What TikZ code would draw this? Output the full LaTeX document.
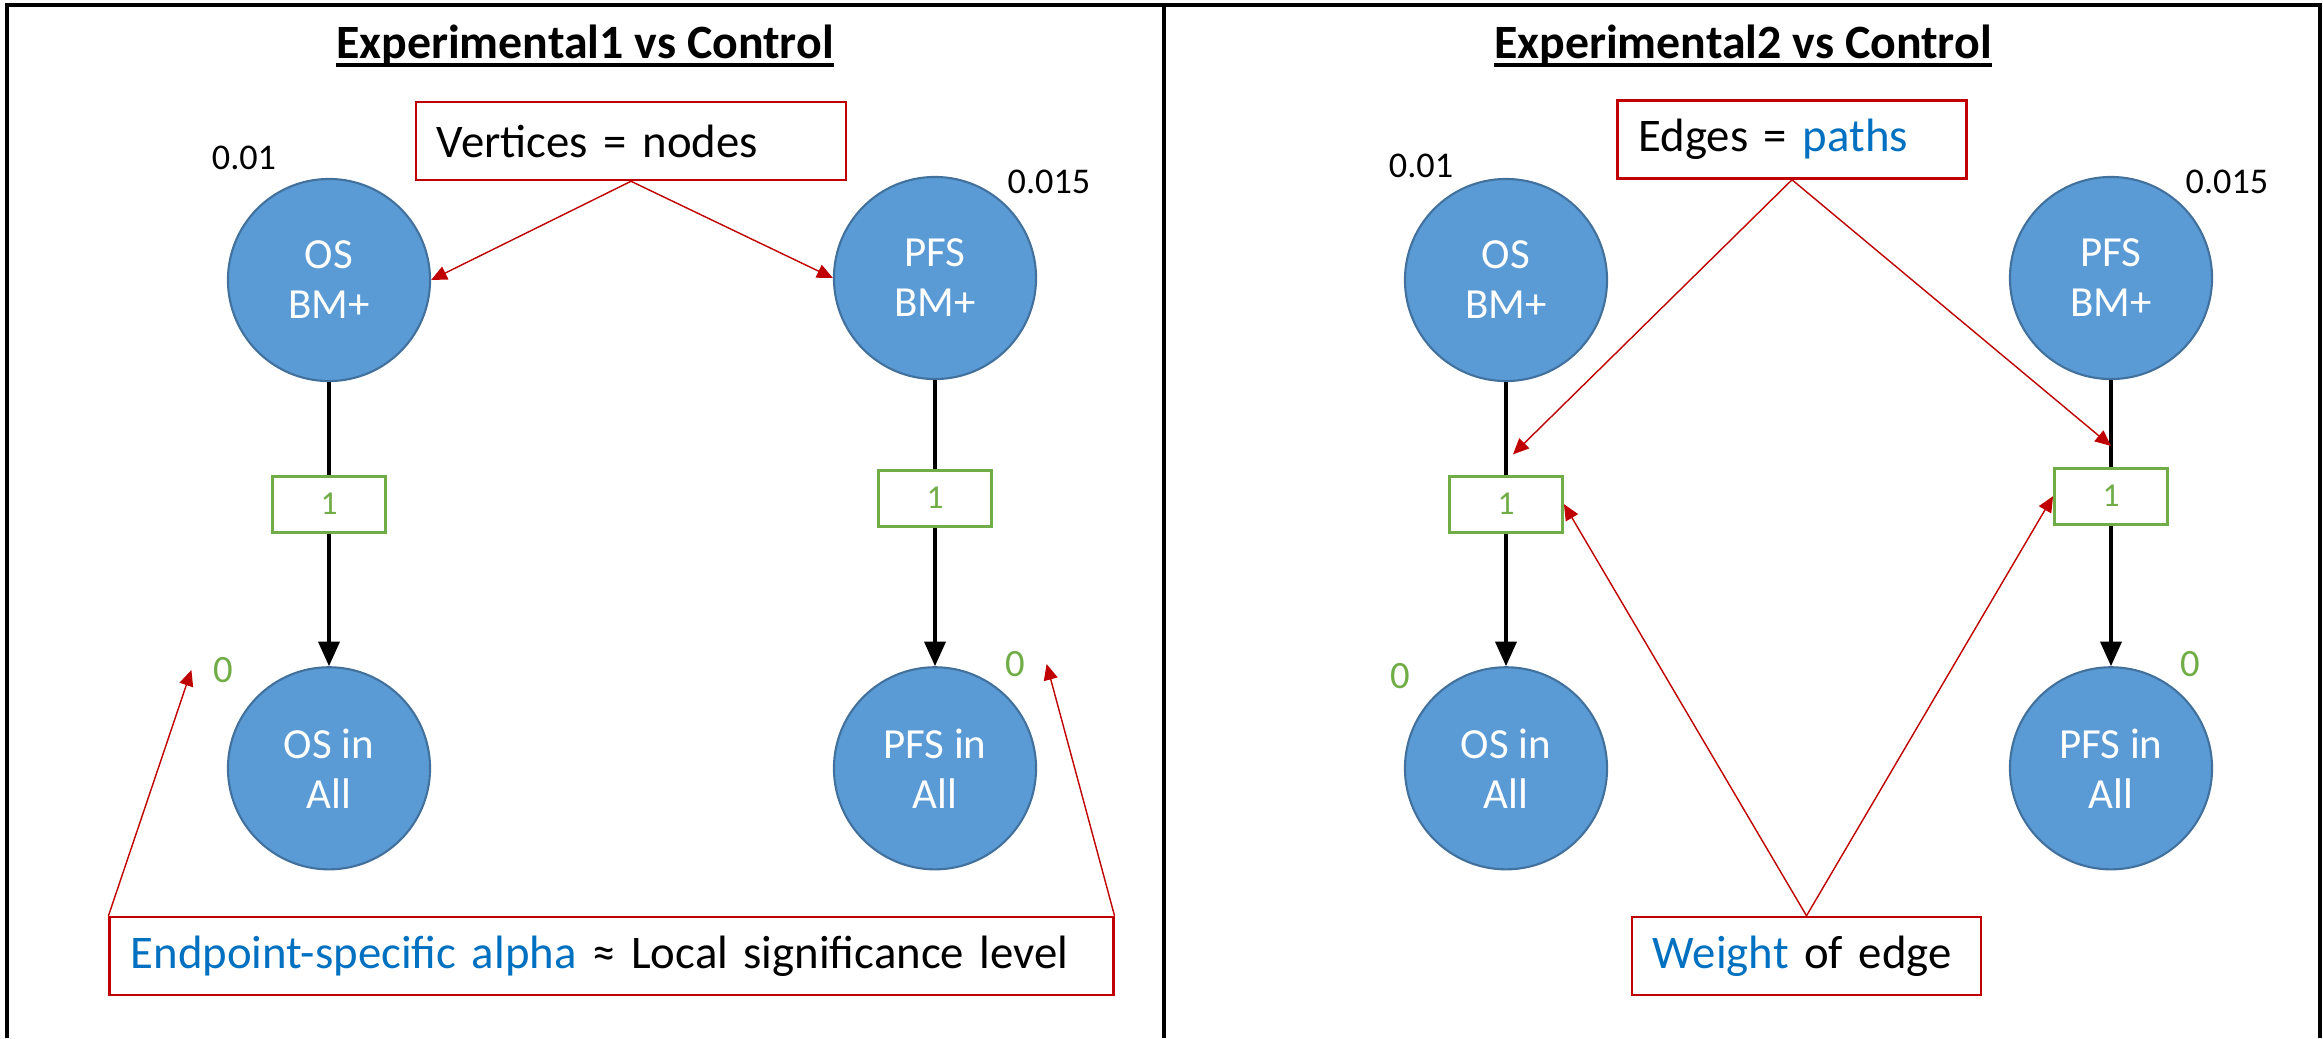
\documentclass[tikz,border=0pt]{standalone}
\usepackage{fontspec}
\setmainfont{Carlito}
\usetikzlibrary{arrows.meta}
\definecolor{nodeblue}{HTML}{5B9BD5}
\definecolor{nodeline}{HTML}{41719C}
\definecolor{wgreen}{HTML}{70AD47}
\definecolor{notered}{HTML}{C00000}
\definecolor{textblue}{HTML}{0070C0}
\newcommand{\headline}[1]{\setbox0\hbox{#1}\rlap{\rule[-2.6pt]{\wd0}{1.1pt}}\box0}
\begin{document}
\begin{tikzpicture}[x=0.01cm,y=-0.01cm,node distance=2.24cm]
    \tikzstyle{hyp} = [circle,draw=nodeline,line width=0.6pt,fill=nodeblue,minimum size=2.02cm,inner sep=0pt,align=center,text=white,font=\fontsize{12.2}{14.2}\selectfont]
    \tikzstyle{weight} = [rectangle,draw=wgreen,line width=0.8pt,minimum width=1.13cm,minimum height=0.56cm,inner sep=0pt,text=wgreen,font=\fontsize{9.5}{10}\selectfont]
    \tikzstyle{alphalbl} = [font=\fontsize{10.3}{12}\selectfont]
    \tikzstyle{zero} = [text=wgreen,inner sep=6pt,font=\fontsize{11}{12}\selectfont]
    \tikzstyle{remark} = [rectangle,draw=notered,line width=0.7pt,align=left,inner xsep=0.21cm,minimum height=0.78cm,font=\fontsize{13.3}{15}\selectfont]
    \tikzstyle{head} = [anchor=base,font=\bfseries\fontsize{13.6}{15}\selectfont]
    \tikzstyle{flow} = [line width=1pt,-{Triangle[length=7pt,width=6pt]}]
    \tikzstyle{note} = [notered,line width=0.4pt,-{Triangle[length=4.5pt,width=4pt]}]
    \useasboundingbox (0,0) rectangle (2323,1038);
    \draw [line width=1.1pt] (7,1038) |- (2320,5) -- (2320,1038);
    \draw [line width=1.1pt] (1164,5) -- (1164,1038);

    \node [head] (head1) at (585,58) {\headline{Experimental1 vs Control}};
    \node [hyp] (os1) at (329,280) {OS\\BM+};
    \node [weight,below of=os1] (w1) {1};
    \node [hyp,below of=w1,node distance=2.64cm] (osall1) {OS in\\All};
    \node [hyp] (pfs1) at (935,278) {PFS\\BM+};
    \node [weight,below of=pfs1,node distance=2.2cm] (w2) {1};
    \node [hyp,below of=w2,node distance=2.7cm] (pfsall1) {PFS in\\All};
    \node [alphalbl] (a1) at (244,158) {0.01};
    \node [alphalbl] (a2) at (1049,182) {0.015};
    \node [zero] (z1) at (223,670) {0};
    \node [zero] (z2) at (1015,664) {0};
    \node [remark,text width=3.88cm] (vert) at (631,141) {Vertices = nodes};
    \node [remark,text width=9.61cm] (local) at (611.5,956) {\textcolor{textblue}{Endpoint-specific alpha} ≈ Local significance level};

    \draw [line width=1pt] (os1) -- (w1);
    \draw [flow] (w1) -- (osall1);
    \draw [line width=1pt] (pfs1) -- (w2);
    \draw [flow] (w2) -- (pfsall1);
    \draw [note] (vert.south) -- (os1.east);
    \draw [note] (vert.south) -- (pfs1.west);
    \draw [note] (local.north west) -- (z1.west);
    \draw [note] (local.north east) -- (z2.east);

    \node [head] (head2) at (1743,58) {\headline{Experimental2 vs Control}};
    \node [hyp] (os2) at (1506,280) {OS\\BM+};
    \node [weight,below of=os2] (w3) {1};
    \node [hyp,below of=w3,node distance=2.64cm] (osall2) {OS in\\All};
    \node [hyp] (pfs2) at (2111,278) {PFS\\BM+};
    \node [weight,below of=pfs2,node distance=2.18cm] (w4) {1};
    \node [hyp,below of=w4,node distance=2.72cm] (pfsall2) {PFS in\\All};
    \node [alphalbl] (a3) at (1421,166) {0.01};
    \node [alphalbl] (a4) at (2227,182) {0.015};
    \node [zero] (z3) at (1400,676) {0};
    \node [zero] (z4) at (2190,664) {0};
    \node [remark,text width=3.07cm] (edges) at (1792,139.5) {Edges = \textcolor{textblue}{paths}};
    \node [remark,text width=3.07cm] (wt) at (1806.5,956) {\textcolor{textblue}{Weight} of edge};

    \draw [line width=1pt] (os2) -- coordinate[pos=0.78] (p1) (w3);
    \draw [flow] (w3) -- (osall2);
    \draw [line width=1pt] (pfs2) -- coordinate[pos=0.76] (p2) (w4);
    \draw [flow] (w4) -- (pfsall2);
    \draw [note] (edges.south) -- ([xshift=2pt]p1);
    \draw [note] (edges.south) -- (p2);
    \draw [note] (wt.north) -- (w3.east);
    \draw [note] (wt.north) -- (w4.west);
\end{tikzpicture}
\end{document}
